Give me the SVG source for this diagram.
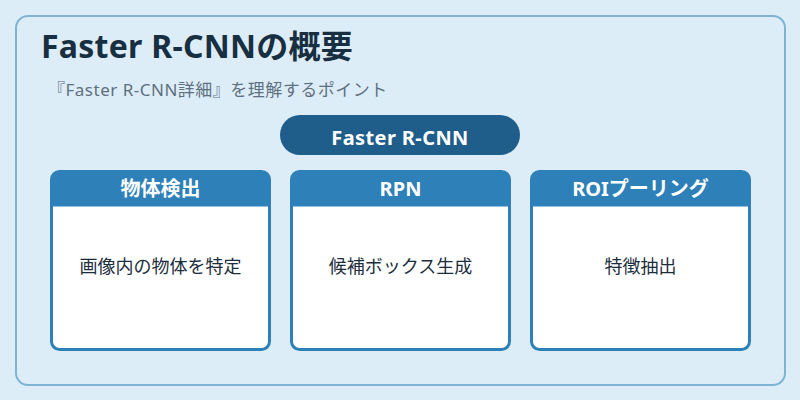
<svg xmlns="http://www.w3.org/2000/svg" width="800" height="400" viewBox="0 0 800 400">
<style>
text{font-family:"Noto Sans","Noto Sans CJK JP",sans-serif}
.card{fill:#ffffff;stroke:#2e80b8;stroke-width:3}
.hdr{fill:#2e80b8}
.ht{fill:#ffffff;font-size:20px;font-weight:bold;text-anchor:middle}
.bt{fill:#1c2e3c;font-size:18px;text-anchor:middle}
</style>
<rect width="800" height="400" fill="#ddedf8"/>
<rect x="16" y="16" width="769" height="369" rx="12" fill="#ddedf8" stroke="#7fb3d5" stroke-width="2"/>
<text x="41" y="58" font-size="32" font-weight="bold" fill="#172f40" letter-spacing="0.25">Faster R-CNNの概要</text>
<text x="48" y="96" font-size="17" fill="#5d7080" letter-spacing="0.5">『Faster R-CNN詳細』を理解するポイント</text>
<g id="root">
<rect x="280" y="115" width="240" height="40" rx="20" fill="#1f5e8a"/>
<text x="400" y="145" fill="#ffffff" font-size="20" font-weight="bold" text-anchor="middle" letter-spacing="0.4">Faster R-CNN</text>
</g>
<g id="connectors"></g>
<g id="n1">
<rect class="card" x="51.5" y="171.5" width="218" height="178" rx="8"/>
<path class="hdr" d="M51.5 206.5V179.5a8 8 0 0 1 8-8h202a8 8 0 0 1 8 8V206.5Z"/>
<text class="ht" x="160.5" y="196">物体検出</text>
<text class="bt" x="160.5" y="273">画像内の物体を特定</text>
</g>
<g id="n2">
<rect class="card" x="291.5" y="171.5" width="218" height="178" rx="8"/>
<path class="hdr" d="M291.5 206.5V179.5a8 8 0 0 1 8-8h202a8 8 0 0 1 8 8V206.5Z"/>
<text class="ht" x="400.5" y="196">RPN</text>
<text class="bt" x="400.5" y="273">候補ボックス生成</text>
</g>
<g id="n3">
<rect class="card" x="531.5" y="171.5" width="218" height="178" rx="8"/>
<path class="hdr" d="M531.5 206.5V179.5a8 8 0 0 1 8-8h202a8 8 0 0 1 8 8V206.5Z"/>
<text class="ht" x="640.5" y="196">ROIプーリング</text>
<text class="bt" x="640.5" y="273">特徴抽出</text>
</g>
</svg>
